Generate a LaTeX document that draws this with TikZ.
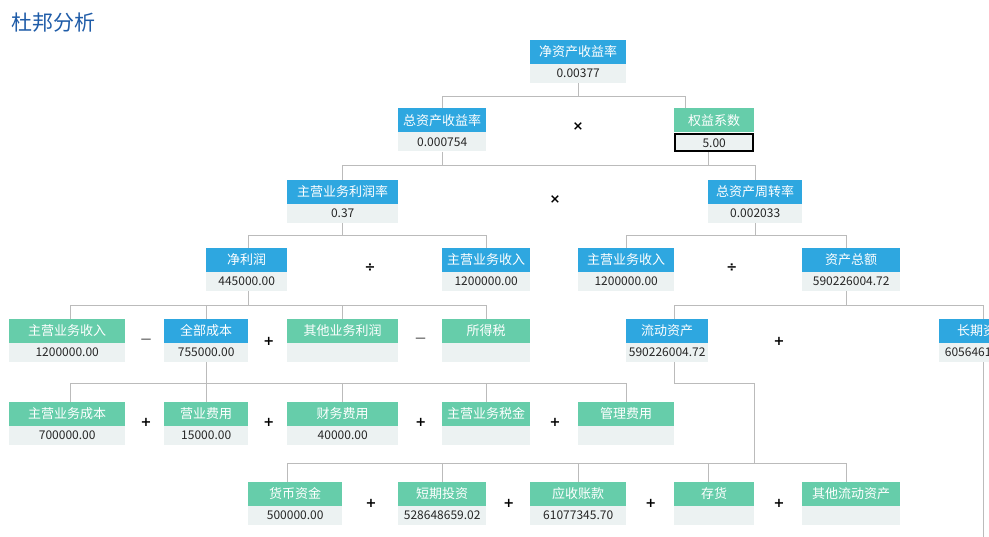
\documentclass[tikz,border=0pt]{standalone}
\usepackage{fontspec}
\setmainfont{Noto Sans CJK SC}
\newfontfamily\opfont{DejaVu Sans}
\definecolor{hblue}{HTML}{2EA7E0}
\definecolor{hgreen}{HTML}{66CDAA}
\definecolor{vbg}{HTML}{ECF2F2}
\definecolor{lgray}{HTML}{BBBBBB}
\definecolor{tblue}{HTML}{1F5CA8}
\tikzset{
  hdr/.style={anchor=north west, inner sep=0pt, minimum height=23.5pt, text=white, font=\fontsize{13}{13}\selectfont},
  val/.style={anchor=north, inner sep=0pt, minimum height=19pt, fill=vbg, text=black!85, font=\fontsize{12}{12}\selectfont},
  conn/.style={draw=lgray, line width=1pt},
  op/.style={inner sep=0pt, text=black, font=\opfont\bfseries\fontsize{13}{13}\selectfont},
  opdash/.style={inner sep=0pt, text=black, font=\opfont\fontsize{10.5}{10.5}\selectfont},
}
\newcommand\dpbox[7]{%
  \node[hdr, fill=#5, minimum width={#3pt-#2pt}] (#1) at (#2,#4) {#6};
  \node[val, minimum width={#3pt-#2pt}] (#1v) at (#1.south) {#7};}
\begin{document}
\begin{tikzpicture}[x=1pt,y=-1pt]
\useasboundingbox (0,0) rectangle (989,537);
\clip (0,0) rectangle (989,537);
\fill[white] (0,0) rectangle (989,537);
\node[anchor=base west, inner sep=0pt, text=tblue, font=\fontsize{21}{21}\selectfont] (title) at (11,30.5) {杜邦分析};
% bus levels
\coordinate (b1) at (0,96.7);
\coordinate (b2) at (0,165.7);
\coordinate (b3) at (0,236);
\coordinate (b4) at (0,306);
\coordinate (b5) at (0,383.3);
\coordinate (b6) at (0,463.3);
\coordinate (bot) at (0,545);
% row 1
\dpbox{roe}{530}{626}{40}{hblue}{净资产收益率}{0.00377}
% row 2
\dpbox{roa}{398}{486}{108.3}{hblue}{总资产收益率}{0.000754}
\node[hdr, fill=hgreen, minimum width=80pt] (em) at (674,108.3) {权益系数};
\node[val, minimum width=78pt, minimum height=17.5pt, draw=black, line width=2pt] (emv) at ([yshift=-0.8pt]em.south) {5.00};
% row 3
\dpbox{pm}{287}{398}{180}{hblue}{主营业务利润率}{0.37}
\dpbox{at}{708}{802}{180}{hblue}{总资产周转率}{0.002033}
% row 4
\dpbox{np}{206}{287}{248}{hblue}{净利润}{445000.00}
\dpbox{rva}{442}{530}{248}{hblue}{主营业务收入}{1200000.00}
\dpbox{rvb}{578}{674}{248}{hblue}{主营业务收入}{1200000.00}
\dpbox{ta}{802}{900}{248}{hblue}{资产总额}{590226004.72}
% row 5
\dpbox{rvc}{9}{125}{319}{hgreen}{主营业务收入}{1200000.00}
\dpbox{tc}{164}{248}{319}{hblue}{全部成本}{755000.00}
\dpbox{op}{287}{398}{319}{hgreen}{其他业务利润}{}
\dpbox{tax}{442}{530}{319}{hgreen}{所得税}{}
\dpbox{ca}{626}{708}{319}{hblue}{流动资产}{590226004.72}
\dpbox{la}{939}{1027}{319}{hblue}{长期资产}{605646138.00}
% row 6
\dpbox{cs}{9}{125}{402}{hgreen}{主营业务成本}{700000.00}
\dpbox{se}{164}{248}{402}{hgreen}{营业费用}{15000.00}
\dpbox{fe}{287}{398}{402}{hgreen}{财务费用}{40000.00}
\dpbox{st}{442}{530}{402}{hgreen}{主营业务税金}{}
\dpbox{me}{578}{674}{402}{hgreen}{管理费用}{}
% row 7
\dpbox{cash}{248}{342}{482}{hgreen}{货币资金}{500000.00}
\dpbox{sti}{398}{486}{482}{hgreen}{短期投资}{528648659.02}
\dpbox{ar}{530}{626}{482}{hgreen}{应收账款}{61077345.70}
\dpbox{inv}{674}{754}{482}{hgreen}{存货}{}
\dpbox{oca}{802}{900}{482}{hgreen}{其他流动资产}{}
% operators
\node[op] (x1) at (578,127) {×};
\node[op] (x2) at (555,200) {×};
\node[op] (d1) at (370,267.3) {÷};
\node[op] (d2) at (731.7,267.7) {÷};
\node[opdash] (m1) at (146,340.7) {—};
\node[op] (p1) at (268.7,341.7) {+};
\node[opdash] (m2) at (420.7,340.3) {—};
\node[op] (p2) at (779,341.3) {+};
\node[op] (p3) at (146,422.7) {+};
\node[op] (p4) at (268.7,422.7) {+};
\node[op] (p5) at (420.7,422.7) {+};
\node[op] (p6) at (555,422.7) {+};
\node[op] (p7) at (371,503.3) {+};
\node[op] (p8) at (508.7,503.3) {+};
\node[op] (p9) at (650.7,503.3) {+};
\node[op] (p10) at (779,503.3) {+};
% connectors level 1
\draw[conn] (roev.south) -- (roev.south |- b1);
\draw[conn] (roa.north) -- (roa.north |- b1) -- ([xshift=-29pt]em.north |- b1) -- ([xshift=-29pt]em.north);
% level 2
\draw[conn] (roav.south) -- (roav.south |- b2);
\draw[conn] ([xshift=-5.3pt]emv.south) -- ([xshift=-5.3pt]emv.south |- b2);
\draw[conn] (pm.north) -- (pm.north |- b2) -- (at.north |- b2) -- (at.north);
% level 3
\draw[conn] (pmv.south) -- (pmv.south |- b3);
\draw[conn] ([xshift=1.5pt]np.north) -- ([xshift=1.5pt]np.north |- b3) -- (rva.north |- b3) -- (rva.north);
\draw[conn] (atv.south) -- (atv.south |- b3);
\draw[conn] (rvb.north) -- (rvb.north |- b3) -- ([xshift=-4.3pt]ta.north |- b3) -- ([xshift=-4.3pt]ta.north);
% level 4
\draw[conn] ([xshift=1.5pt]npv.south) -- ([xshift=1.5pt]npv.south |- b4);
\draw[conn] ([xshift=3.3pt]rvc.north) -- ([xshift=3.3pt]rvc.north |- b4) -- (tax.north |- b4) -- (tax.north);
\draw[conn] (tc.north) -- (tc.north |- b4);
\draw[conn] (op.north) -- (op.north |- b4);
\draw[conn] ([xshift=-4.3pt]tav.south) -- ([xshift=-4.3pt]tav.south |- b4);
\draw[conn] ([xshift=7.3pt]ca.north) -- ([xshift=7.3pt]ca.north |- b4) -- (la.north |- b4) -- (la.north);
\draw[conn] (lav.south) -- (lav.south |- bot);
% level 5
\draw[conn] (tcv.south) -- (tcv.south |- b5);
\draw[conn] ([xshift=3pt]cs.north) -- ([xshift=3pt]cs.north |- b5) -- (me.north |- b5) -- (me.north);
\draw[conn] (se.north) -- (se.north |- b5);
\draw[conn] (fe.north) -- (fe.north |- b5);
\draw[conn] (st.north) -- (st.north |- b5);
\coordinate (cabend) at (754.3,383.3);
\draw[conn] ([xshift=7.3pt]cav.south) |- (cabend) -- (cabend |- b6);
% level 6
\draw[conn] ([xshift=-7.7pt]cash.north) -- ([xshift=-7.7pt]cash.north |- b6) -- ([xshift=-4.3pt]oca.north |- b6) -- ([xshift=-4.3pt]oca.north);
\draw[conn] (sti.north) -- (sti.north |- b6);
\draw[conn] (ar.north) -- (ar.north |- b6);
\draw[conn] ([xshift=-5.7pt]inv.north) -- ([xshift=-5.7pt]inv.north |- b6);
\end{tikzpicture}
\end{document}
